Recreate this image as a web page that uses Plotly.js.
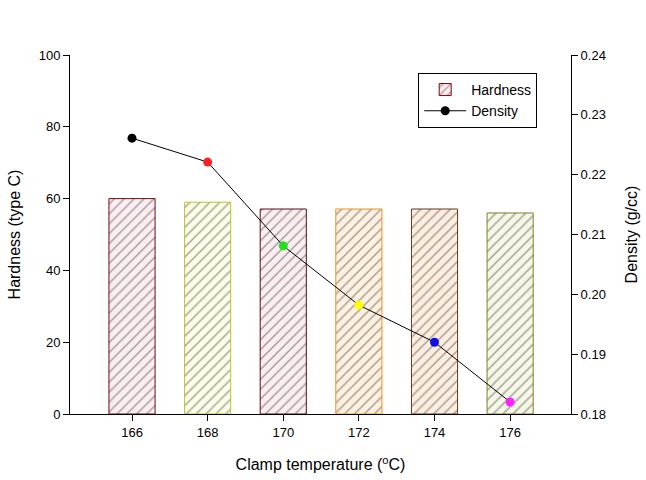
<!DOCTYPE html>
<html>
<head>
<meta charset="utf-8">
<script src="https://cdn.plot.ly/plotly-3.0.1.min.js"></script>
<style>html,body{margin:0;padding:0;background:#fff;}#chart{width:646px;height:480px;}</style>
</head>
<body>
<div id="chart"></div>
<script>
const temps = [166, 168, 170, 172, 174, 176];
const hardness = [60, 59, 57.1, 57.1, 57.1, 56];
const density = [0.2261, 0.2221, 0.2081, 0.1982, 0.192, 0.182];
const xTickLabels = ['166', '168', '170', '172', '174', '176'];

const barLine = ['#6e0a14', '#c0c030', '#600a14', '#f09020', '#603818', '#808028'];
const barHatch = ['#6e1020', '#b0b050', '#181818', '#e09850', '#302010', '#888840'];
const barBg = ['#fbeef0', '#fdfde8', '#fbeef0', '#fef1e0', '#fdeee0', '#f6f7e6'];
const markerColors = ['#000000', '#ff2020', '#20e020', '#ffff00', '#1010e0', '#ff20ff'];

const traces = [
  {
    type: 'bar', name: 'Hardness', x: temps, y: hardness, width: 1.22,
    marker: {
      color: barBg,
      line: {color: barLine, width: 1},
      pattern: {shape: '/', fgcolor: barHatch, bgcolor: barBg, size: 7, solidity: 0.2, fillmode: 'overlay'}
    }
  },
  {
    type: 'scatter', mode: 'lines+markers', name: 'Density', x: temps, y: density, yaxis: 'y2',
    line: {color: '#000', width: 1},
    marker: {color: markerColors, size: 9}
  }
];

const layout = {
  width: 646, height: 480,
  margin: {l: 70, r: 75, t: 55, b: 66},
  paper_bgcolor: '#fff', plot_bgcolor: '#fff',
  font: {family: 'Liberation Sans, Arial, sans-serif', color: '#000', size: 13},
  showlegend: true,
  legend: {x: 0.695, y: 0.95, xanchor: 'left', yanchor: 'top', bordercolor: '#000', borderwidth: 1,
           bgcolor: '#fff', font: {size: 14}, itemwidth: 42, tracegroupgap: 0},
  xaxis: {
    range: [164.36, 177.61], tickvals: temps, ticktext: xTickLabels,
    showline: true, linecolor: '#000', linewidth: 1, ticks: 'outside', ticklen: 6, tickcolor: '#000',
    showgrid: false, zeroline: false,
    title: {text: 'Clamp temperature (<sup>o</sup>C)', font: {size: 16}, standoff: 20}
  },
  yaxis: {
    range: [0, 100], dtick: 20, tick0: 0,
    showline: true, linecolor: '#000', linewidth: 1, ticks: 'outside', ticklen: 6, tickcolor: '#000',
    showgrid: false, zeroline: false,
    title: {text: 'Hardness (type C)', font: {size: 16}, standoff: 14}
  },
  yaxis2: {
    overlaying: 'y', side: 'right', range: [0.18, 0.24], dtick: 0.01, tick0: 0.18, tickformat: '.2f',
    showline: true, linecolor: '#000', linewidth: 1, ticks: 'outside', ticklen: 6, tickcolor: '#000',
    showgrid: false, zeroline: false,
    title: {text: 'Density (g/cc)', font: {size: 16}, standoff: 20}
  }
};

Plotly.newPlot('chart', traces, layout, {displayModeBar: false, staticPlot: true});
</script>
</body>
</html>
